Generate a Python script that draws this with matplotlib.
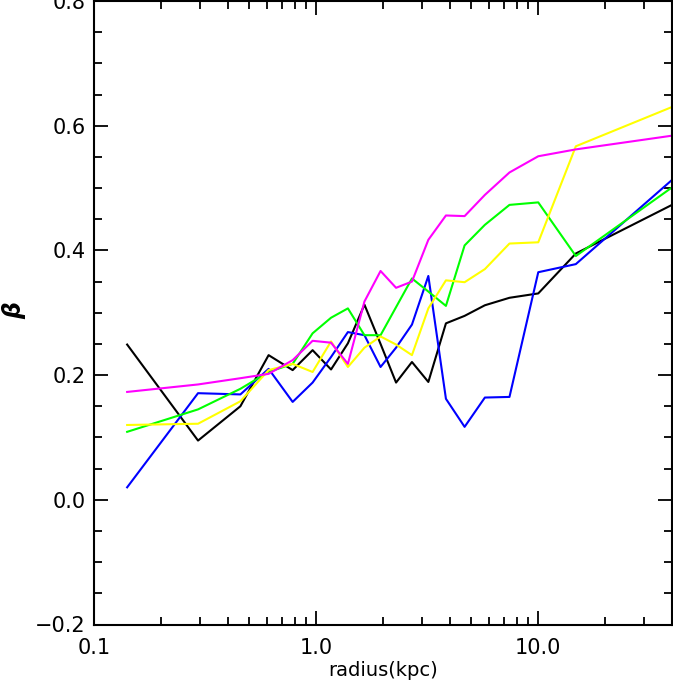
import numpy as np
import matplotlib
matplotlib.use("Agg")
import matplotlib.pyplot as plt
from matplotlib.ticker import FixedLocator, MultipleLocator, NullFormatter

# radius bins (kpc), shared by all curves
radius = [0.141, 0.294, 0.456, 0.611, 0.784, 0.964, 1.167, 1.39, 1.65, 1.95,
          2.29, 2.70, 3.20, 3.84, 4.66, 5.75, 7.42, 10.0, 14.76, 40.0]

beta_black = [0.249, 0.095, 0.150, 0.232, 0.208, 0.240, 0.209, 0.251, 0.313, 0.250,
              0.188, 0.221, 0.189, 0.283, 0.295, 0.312, 0.324, 0.331, 0.395, 0.473]
beta_blue = [0.020, 0.171, 0.169, 0.210, 0.157, 0.188, 0.229, 0.269, 0.264, 0.213,
             0.244, 0.281, 0.359, 0.162, 0.117, 0.164, 0.165, 0.365, 0.378, 0.513]
beta_green = [0.109, 0.145, 0.178, 0.205, 0.218, 0.267, 0.292, 0.307, 0.264, 0.264,
              0.309, 0.355, 0.334, 0.311, 0.408, 0.441, 0.473, 0.477, 0.391, 0.501]
beta_yellow = [0.120, 0.122, 0.158, 0.208, 0.218, 0.205, 0.254, 0.213, 0.244, 0.262,
               0.249, 0.232, 0.307, 0.352, 0.349, 0.370, 0.411, 0.413, 0.567, 0.630]
beta_magenta = [0.173, 0.185, 0.195, 0.202, 0.224, 0.255, 0.252, 0.218, 0.318, 0.367,
                0.340, 0.350, 0.417, 0.456, 0.455, 0.489, 0.525, 0.551, 0.562, 0.584]

series = [(beta_black, "black"), (beta_blue, "#0000ff"), (beta_green, "#00ff00"),
          (beta_yellow, "#ffff00"), (beta_magenta, "#ff00ff")]

fig = plt.figure(figsize=(6.73, 6.89), dpi=100)
ax = fig.add_axes([94 / 673, 1 - 624.5 / 689, 578 / 673, 623.5 / 689])

for vals, col in series:
    ax.plot(radius, vals, color=col, lw=1.5)

ax.set_xscale("log")
ax.set_xlim(0.1, 40)
ax.set_ylim(-0.2, 0.8)

ax.xaxis.set_major_locator(FixedLocator([0.1, 1.0, 10.0]))
ax.set_xticklabels(["0.1", "1.0", "10.0"])
minors = [m * 10.0 ** e for e in (-1, 0, 1) for m in range(2, 10)]
ax.xaxis.set_minor_locator(FixedLocator(minors))
ax.xaxis.set_minor_formatter(NullFormatter())
ax.set_yticks(np.arange(-0.2, 0.81, 0.2))
ax.set_yticklabels(["\u22120.2", "0.0", "0.2", "0.4", "0.6", "0.8"])
ax.yaxis.set_minor_locator(MultipleLocator(0.05))

ax.tick_params(which="both", direction="in", top=True, right=True, labelsize=15, width=1.3)
ax.tick_params(which="major", length=10)
ax.tick_params(which="minor", length=6)
ax.tick_params(axis="x", which="major", pad=10)
ax.tick_params(axis="y", which="major", pad=6)
for s in ax.spines.values():
    s.set_linewidth(1.5)

ax.set_xlabel("radius(kpc)", fontsize=14, labelpad=2)
ax.set_ylabel("\u03b2", fontsize=17, fontstyle="italic", fontweight="semibold")
ax.yaxis.set_label_coords(-0.118, 0.504)

fig.savefig("out.png", dpi=100)
